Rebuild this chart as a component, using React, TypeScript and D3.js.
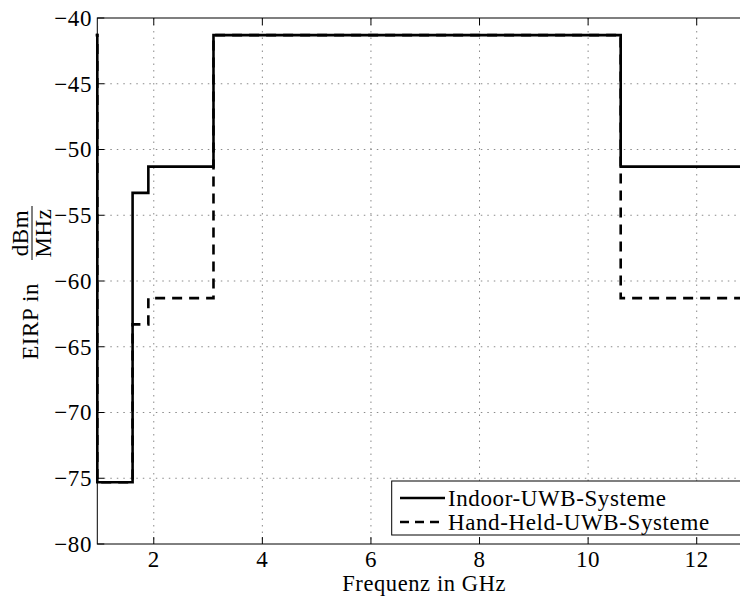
import React from "react";
import * as d3 from "d3";

const freqGHz = [0.5, 0.96, 1.61, 1.9, 3.1, 10.6, 13];
const indoorEirp = [-41.3, -75.3, -53.3, -51.3, -41.3, -51.3, -51.3];
const handheldEirp = [-41.3, -75.3, -63.3, -61.3, -41.3, -61.3, -61.3];
const xTicks = [2, 4, 6, 8, 10, 12];
const yTicks = [-80, -75, -70, -65, -60, -55, -50, -45, -40];
const seriesNames = ["Indoor-UWB-Systeme", "Hand-Held-UWB-Systeme"];
const xLabel = "Frequenz in GHz";
const yLabelMain = "EIRP in";
const yLabelNum = "dBm";
const yLabelDen = "MHz";

const W = 740;
const H = 597;
const left = 97.3;
const right = 751;
const top = 18;
const bottom = 544;
const FONT = '"Liberation Serif", "DejaVu Serif", serif';
const LS = "0.6px";

export default function App() {
  const x = d3.scaleLinear().domain([0.96, 13]).range([left, right]);
  const y = d3.scaleLinear().domain([-80, -40]).range([bottom, top]);
  const line = d3
    .line<number>()
    .x((_, i) => x(freqGHz[i]))
    .y((d) => y(d))
    .curve(d3.curveStepAfter);
  const tick = 7;
  const fs = 23;
  const txt = { fontFamily: FONT, letterSpacing: LS };

  return (
    <svg
      width={W}
      height={H}
      style={{ position: "absolute", left: 0, top: 0, background: "#fff", fontFamily: FONT }}
    >
      <defs>
        <clipPath id="plotclip">
          <rect x={left - 1.5} y={top - 2} width={right - left + 3} height={bottom - top + 4} />
        </clipPath>
      </defs>
      <rect x={0} y={0} width={W} height={H} fill="#fff" />
      {/* grid */}
      <g stroke="#8a8a8a" strokeWidth={1} strokeDasharray="1.5,5">
        {xTicks.map((t) => (
          <line key={"gx" + t} x1={x(t)} x2={x(t)} y1={top} y2={bottom} />
        ))}
        {yTicks
          .filter((t) => t > -80 && t < -40)
          .map((t) => (
            <line key={"gy" + t} x1={left} x2={right} y1={y(t)} y2={y(t)} />
          ))}
      </g>
      {/* data */}
      <g clipPath="url(#plotclip)" fill="none">
        <path d={line(indoorEirp) || ""} stroke="#000" strokeWidth={2.6} />
        <path d={line(handheldEirp) || ""} stroke="#000" strokeWidth={2.6} strokeDasharray="10,7" />
      </g>
      {/* axes box */}
      <g stroke="#000" strokeWidth={1} fill="none">
        <rect x={left} y={top} width={right - left} height={bottom - top} />
        {xTicks.map((t) => (
          <g key={"tx" + t}>
            <line x1={x(t)} x2={x(t)} y1={bottom} y2={bottom - tick} />
            <line x1={x(t)} x2={x(t)} y1={top} y2={top + tick} />
          </g>
        ))}
        {yTicks.map((t) => (
          <g key={"ty" + t}>
            <line x1={left} x2={left + tick} y1={y(t)} y2={y(t)} />
            <line x1={right} x2={right - tick} y1={y(t)} y2={y(t)} />
          </g>
        ))}
      </g>
      {/* tick labels */}
      <g fontSize={fs} fill="#000" style={txt}>
        {xTicks.map((t) => (
          <text key={"lx" + t} x={x(t)} y={566.5} textAnchor="middle">
            {String(t)}
          </text>
        ))}
        {yTicks.map((t) => (
          <text key={"ly" + t} x={92} y={y(t)} dy="0.34em" textAnchor="end">
            {t < 0 ? "\u2212" + Math.abs(t) : String(t)}
          </text>
        ))}
      </g>
      {/* x label */}
      <text x={(left + right) / 2} y={590.5} textAnchor="middle" fontSize={22.5} style={txt}>
        {xLabel}
      </text>
      {/* y label */}
      <g transform="translate(38,285) rotate(-90)" fontSize={fs} style={txt}>
        <text x={2} y={0} textAnchor="end">
          {yLabelMain}
        </text>
        <line x1={25} x2={79} y1={-6} y2={-6} stroke="#000" strokeWidth={1} />
        <text x={52} y={-10} textAnchor="middle">
          {yLabelNum}
        </text>
        <text x={52} y={13} textAnchor="middle">
          {yLabelDen}
        </text>
      </g>
      {/* legend */}
      <g style={txt}>
        <rect x={391.7} y={481} width={right - 10 - 391.7} height={54} fill="#fff" stroke="#000" strokeWidth={1} />
        {seriesNames.map((name, i) => (
          <g key={name}>
            <line
              x1={400}
              x2={445}
              y1={498 + i * 24}
              y2={498 + i * 24}
              stroke="#000"
              strokeWidth={2.6}
              strokeDasharray={i === 1 ? "9,6" : undefined}
            />
            <text x={448} y={498 + i * 24} dy="0.34em" fontSize={fs}>
              {name}
            </text>
          </g>
        ))}
      </g>
    </svg>
  );
}
